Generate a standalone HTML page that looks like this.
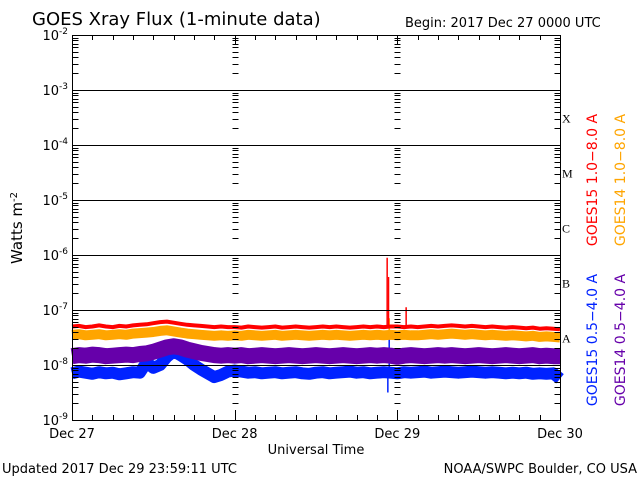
<!DOCTYPE html>
<html><head><meta charset="utf-8"><style>
body{margin:0;background:#fff;}
svg{display:block;font-family:"DejaVu Sans","Liberation Sans",sans-serif;}
</style></head><body>
<svg id="c" width="640" height="480" viewBox="0 0 640 480">
<rect width="640" height="480" fill="#fff"/>
<text x="32" y="25" font-size="18">GOES Xray Flux (1-minute data)</text>
<text x="405" y="27" font-size="13">Begin:  2017 Dec 27 0000 UTC</text>
<text transform="translate(22,228) rotate(-90)" font-size="15" text-anchor="middle">Watts m<tspan baseline-shift="super" font-size="10">-2</tspan></text>
<text x="316" y="454" font-size="13" text-anchor="middle">Universal Time</text>
<text x="2" y="473" font-size="13">Updated 2017 Dec 29 23:59:11 UTC</text>
<text x="637" y="473" font-size="13" text-anchor="end">NOAA/SWPC Boulder, CO USA</text>
<g id="plot"></g>
<g id="axes" shape-rendering="crispEdges"></g>
<g id="labels"></g>
<text transform="translate(597,180) rotate(-90)" font-size="14" text-anchor="middle" fill="#ff0000">GOES15 1.0−8.0 A</text>
<text transform="translate(625,180) rotate(-90)" font-size="14" text-anchor="middle" fill="#ffa500">GOES14 1.0−8.0 A</text>
<text transform="translate(597,340) rotate(-90)" font-size="14" text-anchor="middle" fill="#0022ff">GOES15 0.5−4.0 A</text>
<text transform="translate(625,340) rotate(-90)" font-size="14" text-anchor="middle" fill="#6600aa">GOES14 0.5−4.0 A</text>
</svg>
<script>
const dayLabels=["Dec 27","Dec 28","Dec 29","Dec 30"];
const decades=[-9,-8,-7,-6,-5,-4,-3,-2];
const flareClasses=["A","B","C","M","X"];
const red=[-7.30,-7.29,-7.31,-7.30,-7.28,-7.30,-7.31,-7.29,-7.30,-7.28,-7.27,-7.26,
-7.24,-7.22,-7.21,-7.23,-7.25,-7.27,-7.28,-7.29,-7.30,-7.31,-7.30,-7.31,
-7.31,-7.32,-7.30,-7.31,-7.32,-7.31,-7.30,-7.32,-7.31,-7.30,-7.31,-7.32,
-7.31,-7.30,-7.31,-7.30,-7.31,-7.32,-7.31,-7.30,-7.31,-7.30,-7.31,-7.30,
-7.30,-7.31,-7.30,-7.31,-7.30,-7.29,-7.30,-7.29,-7.28,-7.29,-7.30,-7.29,
-7.30,-7.31,-7.30,-7.31,-7.32,-7.31,-7.32,-7.33,-7.32,-7.34,-7.33,-7.34,-7.35];
const orange=[-7.45,-7.44,-7.46,-7.45,-7.44,-7.46,-7.45,-7.44,-7.45,-7.43,-7.42,-7.41,
-7.40,-7.38,-7.37,-7.39,-7.41,-7.43,-7.44,-7.45,-7.46,-7.47,-7.46,-7.47,
-7.46,-7.47,-7.45,-7.46,-7.47,-7.46,-7.45,-7.47,-7.46,-7.45,-7.46,-7.47,
-7.46,-7.45,-7.46,-7.45,-7.46,-7.47,-7.46,-7.45,-7.46,-7.45,-7.46,-7.45,
-7.46,-7.45,-7.46,-7.46,-7.45,-7.44,-7.45,-7.44,-7.43,-7.44,-7.45,-7.44,
-7.45,-7.46,-7.45,-7.46,-7.47,-7.46,-7.47,-7.48,-7.47,-7.49,-7.48,-7.49,-7.50];
const purple=[-7.84,-7.82,-7.83,-7.81,-7.82,-7.84,-7.83,-7.82,-7.81,-7.82,-7.80,-7.79,
-7.76,-7.72,-7.68,-7.66,-7.68,-7.72,-7.75,-7.78,-7.80,-7.82,-7.83,-7.82,
-7.83,-7.82,-7.84,-7.83,-7.82,-7.83,-7.84,-7.83,-7.82,-7.83,-7.84,-7.83,
-7.82,-7.83,-7.84,-7.83,-7.82,-7.83,-7.84,-7.83,-7.82,-7.83,-7.82,-7.83,
-7.85,-7.83,-7.82,-7.83,-7.84,-7.83,-7.82,-7.83,-7.82,-7.83,-7.84,-7.83,
-7.82,-7.83,-7.84,-7.83,-7.82,-7.83,-7.84,-7.83,-7.82,-7.84,-7.83,-7.84,-7.84];
const blue=[-8.15,-8.12,-8.14,-8.16,-8.13,-8.15,-8.14,-8.17,-8.15,-8.13,-8.14,-7.95,
-8.05,-8.00,-7.85,-7.75,-7.82,-7.90,-8.00,-8.08,-8.15,-8.22,-8.18,-8.12,
-8.10,-8.12,-8.14,-8.13,-8.15,-8.14,-8.13,-8.15,-8.14,-8.13,-8.15,-8.16,
-8.14,-8.13,-8.15,-8.14,-8.13,-8.12,-8.14,-8.13,-8.15,-8.14,-8.13,-8.14,
-8.15,-8.13,-8.14,-8.13,-8.12,-8.14,-8.13,-8.12,-8.13,-8.14,-8.13,-8.12,
-8.13,-8.14,-8.13,-8.14,-8.15,-8.14,-8.15,-8.14,-8.16,-8.15,-8.16,-8.15,-8.25];
const redSpikeHours=[46.5,46.7,49.3];
const redSpikeValues=[-6.05,-6.4,-6.95];
const orangeSpikeHours=[46.8];
const orangeSpikeValues=[-7.15];
const blueSpikeHours=[46.6,46.8];
const blueSpikeValues=[-8.5,-7.5];

const L=72,R=560,T=35,B=420;
const xs=h=>L+(R-L)*h/72;
const ys=v=>T+(-2-v)*(B-T)/7;
const NS="http://www.w3.org/2000/svg";
function mk(tag,attrs,parent){const e=document.createElementNS(NS,tag);for(const k in attrs)e.setAttribute(k,attrs[k]);parent.appendChild(e);return e;}
const plot=document.getElementById('plot'),axes=document.getElementById('axes'),labels=document.getElementById('labels');

decades.forEach(d=>{if(d>-9&&d<-2){const y=Math.round(ys(d))+0.5;const g=mk('line',{x1:L,x2:R,y1:y,y2:y,stroke:'#000','stroke-width':1},axes);

}});

const series=[[blue,'#0022ff',12,'series-goes15-short',blueSpikeHours,blueSpikeValues],[purple,'#6600aa',16,'series-goes14-short',[],[]],[orange,'#ffa500',10,'series-goes14-long',orangeSpikeHours,orangeSpikeValues],[red,'#ff0000',4,'series-goes15-long',redSpikeHours,redSpikeValues]];
series.forEach(s=>{
  const pts=s[0].map((v,i)=>xs(i).toFixed(1)+','+ys(v).toFixed(1)).join(' ');
  const p=mk('polyline',{points:pts,fill:'none',stroke:s[1],'stroke-width':s[2],'stroke-linejoin':'round'},plot);
  
  
  s[4].forEach((h,k)=>{const base=s[0][Math.round(h)];
    const sp=mk('line',{x1:xs(h),x2:xs(h),y1:ys(base),y2:ys(s[5][k]),stroke:s[1],'stroke-width':1.5},plot);
    
    });
});

const fr=mk('rect',{x:L+0.5,y:T+0.5,width:R-L,height:B-T,fill:'none',stroke:'#000','stroke-width':1},axes);



decades.forEach(d=>{
  const t=mk('text',{x:L-4,y:ys(d)+5,'font-size':13,'text-anchor':'end'},labels);
  
  
  t.innerHTML='10<tspan dy="-6" font-size="9">'+d+'</tspan>';
  if(d<-2){for(let m=2;m<=9;m++){const y=Math.round(ys(d+Math.log10(m)))+0.5;
    [L,xs(24),xs(48),R].forEach((x,j)=>{x=Math.round(x)+0.5;
      if(j===0) mk('line',{x1:x,x2:x+6,y1:y,y2:y,stroke:'#000'},axes);
      else if(j===3) mk('line',{x1:x-6,x2:x,y1:y,y2:y,stroke:'#000'},axes);
      else mk('line',{x1:x-3,x2:x+3,y1:y,y2:y,stroke:'#000'},axes);
    });}}
});
for(let h=0;h<=72;h+=3){const x=Math.round(xs(h))+0.5;const len=h%24===0?10:5;
  mk('line',{x1:x,x2:x,y1:B,y2:B-len,stroke:'#000'},axes);
  mk('line',{x1:x,x2:x,y1:T,y2:T+len,stroke:'#000'},axes);}
dayLabels.forEach((lab,i)=>{const t=mk('text',{x:xs(i*24),y:438,'font-size':13,'text-anchor':'middle'},labels);
  t.textContent=lab;
  
  });
flareClasses.forEach((c,i)=>{const t=mk('text',{x:562,y:ys(-7.5+i)+5,'font-size':12,'font-family':'Liberation Serif,serif'},labels);
  t.textContent=c;
  
  });
</script>
</body></html>
